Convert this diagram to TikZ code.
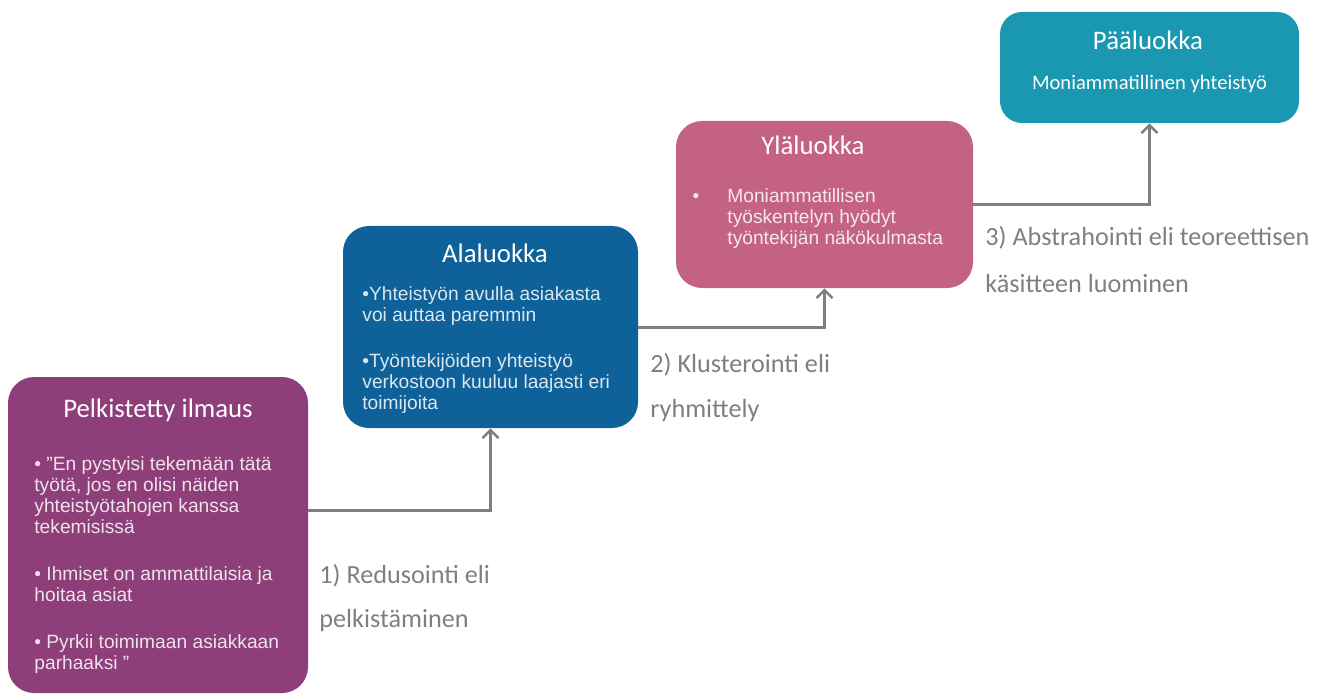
\documentclass[tikz,border=0pt]{standalone}
\usepackage{fontspec}
\setmainfont{Liberation Sans}
\newfontfamily\calfont{Carlito}
\usepackage{tikz}
\usetikzlibrary{positioning,arrows.meta}
\definecolor{pelkcol}{HTML}{8E3F7A}
\definecolor{alacol}{HTML}{0F6199}
\definecolor{ylacol}{HTML}{C46282}
\definecolor{paacol}{HTML}{1A97B1}
\definecolor{flowcol}{HTML}{7F7F7F}

\begin{document}
\begin{tikzpicture}[x=0.5pt,y=-0.5pt,
    box/.style={draw=none, rounded corners=13pt, inner sep=0pt},
    title/.style={text=white, font=\calfont\fontsize{13.4}{16}\selectfont},
    body/.style={text=white, text opacity=0.85, align=left, inner sep=0pt, anchor=north west,
        font=\fontsize{9.6}{10.5}\selectfont},
    flow/.style={draw=flowcol, line width=1.5pt, -{Straight Barb[length=4pt,width=8pt,line width=1.2pt]}},
    steplabel/.style={text=flowcol, anchor=west, inner sep=0pt,
        font=\calfont\fontsize{13.1}{16}\selectfont}]
    \useasboundingbox (0,0) rectangle (1326,695);

    \node[box, fill=pelkcol, minimum width=150pt, minimum height=158pt] (pelk) at (158,535) {};
    \node[box, fill=alacol, minimum width=147.5pt, minimum height=101pt] (ala) at (490.5,327) {};
    \node[box, fill=ylacol, minimum width=148.5pt, minimum height=83.5pt] (yla) at (824.5,204.5) {};
    \node[box, fill=paacol, minimum width=149.5pt, minimum height=55.5pt, rounded corners=11pt] (paa) at (1149.5,67.5) {};

    \node[title] (pelktitle) at (158,410) {Pelkistetty ilmaus};
    \node[body] (pelktext) at (34,456) {• ”En pystyisi tekemään tätä\\työtä, jos en olisi näiden\\yhteistyötahojen kanssa\\tekemisissä\\[13pt]
        • Ihmiset on ammattilaisia ja\\hoitaa asiat\\[13pt]
        • Pyrkii toimimaan asiakkaan\\parhaaksi ”};

    \node[title] (alatitle) at (495,253) {Alaluokka};
    \node[body] (alatext) at (362,286) {•Yhteistyön avulla asiakasta\\voi auttaa paremmin\\[12.5pt]
        •Työntekijöiden yhteistyö\\verkostoon kuuluu laajasti eri\\toimijoita};

    \node[title] (ylatitle) at (813,145) {Yläluokka};
    \node[body] (ylatext) at (727,188) {\llap{•\hspace{14pt}}Moniammatillisen\\työskentelyn hyödyt\\työntekijän näkökulmasta};

    \node[title] (paatitle) at (1148,40) {Pääluokka};
    \node[title, font=\calfont\fontsize{10.3}{12}\selectfont] (paatext) at (1149.5,84) {Moniammatillinen yhteistyö};

    \draw[flow] ([yshift=12.5pt]pelk.east) -| (ala.south);
    \draw[flow] (ala.east) -| (yla.south);
    \draw[flow] (yla.east) -| (paa.south);

    \node[steplabel] (red1) at (319,576) {1) Redusointi eli};
    \node[steplabel] (red2) at (319,621) {pelkistäminen};
    \node[steplabel] (klu1) at (650,365) {2) Klusterointi eli};
    \node[steplabel] (klu2) at (650,411) {ryhmittely};
    \node[steplabel] (abs1) at (985,238) {3) Abstrahointi eli teoreettisen};
    \node[steplabel] (abs2) at (985,284) {käsitteen luominen};
\end{tikzpicture}
\end{document}
